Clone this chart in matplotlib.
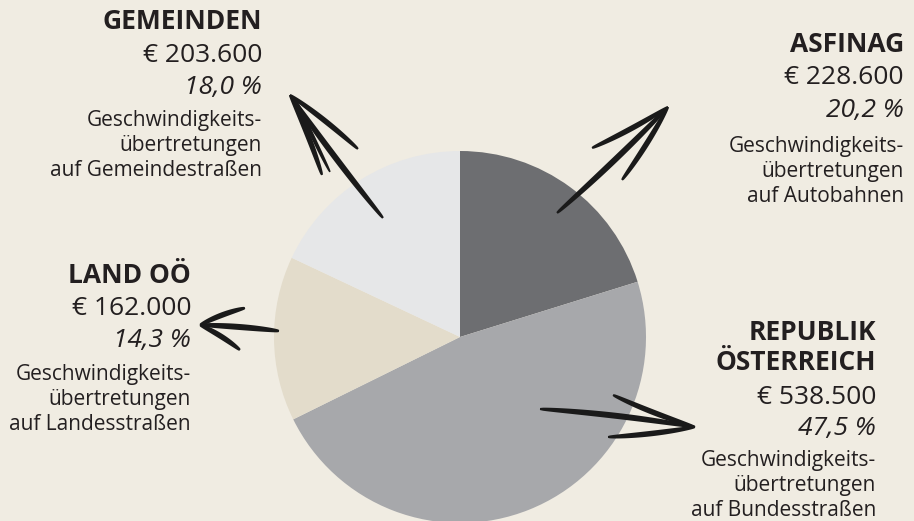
import numpy as np
import matplotlib.pyplot as plt
from matplotlib.patches import Polygon

# data (clockwise from 12 o'clock)
names = ["ASFINAG", "REPUBLIK\nÖSTERREICH", "LAND OÖ", "GEMEINDEN"]
amounts = ["€ 228.600", "€ 538.500", "€ 162.000", "€ 203.600"]
shares = [20.2, 47.5, 14.3, 18.0]
roads = ["Autobahnen", "Bundesstraßen", "Landesstraßen", "Gemeindestraßen"]
colors = ["#6d6e71", "#a7a8ab", "#e3dccb", "#e6e7e8"]

BG = "#f0ece2"
INK = "#231f20"
FONT = "Open Sans"

fig = plt.figure(figsize=(9.14, 5.21), dpi=100, facecolor=BG)
ax = fig.add_axes([0, 0, 1, 1])
ax.set_facecolor(BG)

# y is flipped below, so counterclock=True reads clockwise on screen
ax.pie(shares, colors=colors, startangle=-90, counterclock=True,
       center=(460, 337), radius=186, frame=True,
       wedgeprops=dict(linewidth=0))
ax.set_xlim(0, 914)
ax.set_ylim(521, 0)  # pixel-like coordinates, y down
ax.set_aspect("equal")
ax.axis("off")

# label blocks: right edge x, baselines for title / amount / percent / description
blocks = [
    (904, [52], 84, 117, 152),
    (876, [340, 370], 404, 435, 466),
    (191, [283], 315, 347, 380),
    (262, [29], 62, 94, 126),
]
for i, (x, tys, ay, py, dy) in enumerate(blocks):
    for line, ty in zip(names[i].split("\n"), tys):
        ax.text(x, ty, line, ha="right", va="baseline", fontsize=19,
                fontweight="bold", family=FONT, color=INK)
    ax.text(x, ay, amounts[i], ha="right", va="baseline", fontsize=19,
            family=FONT, color=INK)
    pct = f"{shares[i]:.1f}".replace(".", ",") + " %"
    ax.text(x, py, pct, ha="right", va="baseline", fontsize=19,
            style="italic", family=FONT, color=INK)
    desc = ["Geschwindigkeits-", "übertretungen", "auf " + roads[i]]
    for k, line in enumerate(desc):
        ax.text(x, dy + 25 * k, line, ha="right", va="baseline", fontsize=15,
                family=FONT, color=INK)


def stroke(p0, p1, bend=0.0, w=6.0):
    # tapered brush stroke along a slightly bent quadratic curve
    p0, p1 = np.array(p0, float), np.array(p1, float)
    d = p1 - p0
    n = np.array([-d[1], d[0]]) / np.hypot(*d)
    c = (p0 + p1) / 2 + n * bend
    t = np.linspace(0, 1, 50)[:, None]
    pts = (1 - t) ** 2 * p0 + 2 * (1 - t) * t * c + t ** 2 * p1
    tang = np.gradient(pts, axis=0)
    nn = np.stack([-tang[:, 1], tang[:, 0]], axis=1)
    nn /= np.hypot(nn[:, 0], nn[:, 1])[:, None]
    half = (w / 2) * (0.35 + 0.65 * np.sin(np.pi * t[:, 0]) ** 0.5)
    poly = np.vstack([pts + nn * half[:, None], (pts - nn * half[:, None])[::-1]])
    ax.add_patch(Polygon(poly, closed=True, color="#1a1a1a", lw=0, zorder=5))


def arrow(tail, tip, head_a, head_b, bend=0.0):
    stroke(tail, tip, bend, w=6)
    stroke(head_a, tip, 3, w=5.5)
    stroke(tip, head_b, -3, w=5.5)


arrow((557, 213), (668, 107), (592, 148), (622, 180), bend=3)   # ASFINAG
arrow((540, 409), (695, 427), (613, 395), (608, 437), bend=-4)  # Republik
arrow((279, 331), (200, 325), (245, 308), (240, 350), bend=2)   # Land OÖ
arrow((383, 218), (290, 95), (358, 149), (322, 175), bend=-3)   # Gemeinden
stroke((296, 100), (330, 172), 1, w=4)

fig.savefig("out.png", dpi=100, facecolor=BG)
